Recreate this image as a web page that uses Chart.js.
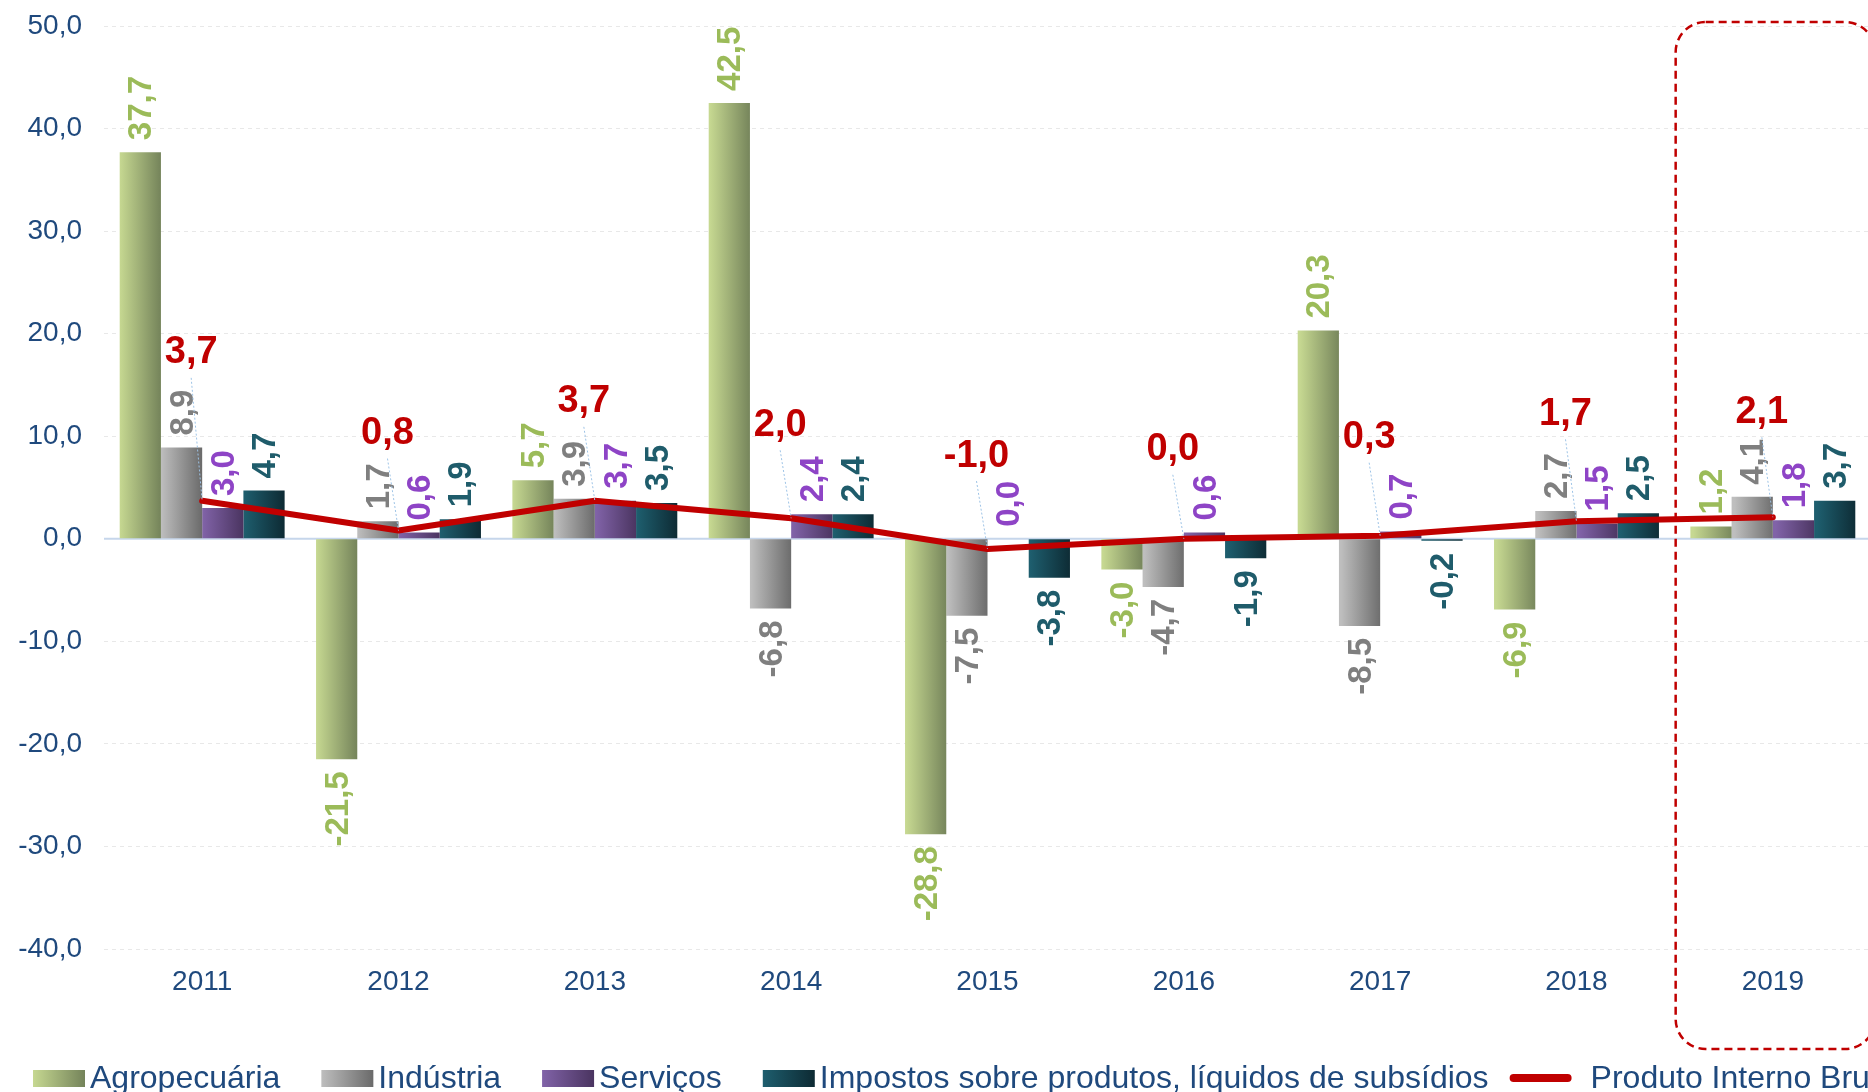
<!DOCTYPE html>
<html>
<head>
<meta charset="utf-8">
<script src="https://cdn.jsdelivr.net/npm/chart.js@4.4.0/dist/chart.umd.min.js"></script>
<style>
  html, body { margin: 0; padding: 0; background: #fff; overflow: hidden; }
  #wrap { position: relative; width: 1874px; height: 1092px; }
</style>
</head>
<body>
<div id="wrap"><canvas id="pibChart"></canvas></div>
<script>
// dados (taxa de variação em volume, %)
const anos = ["2011", "2012", "2013", "2014", "2015", "2016", "2017", "2018", "2019"];
const agropecuaria = [37.7, -21.5, 5.7, 42.5, -28.8, -3.0, 20.3, -6.9, 1.2];
const industria = [8.9, 1.7, 3.9, -6.8, -7.5, -4.7, -8.5, 2.7, 4.1];
const servicos = [3.0, 0.6, 3.7, 2.4, 0.0, 0.6, 0.7, 1.5, 1.8];
const impostos = [4.7, 1.9, 3.5, 2.4, -3.8, -1.9, -0.2, 2.5, 3.7];
const pib = [3.7, 0.8, 3.7, 2.0, -1.0, 0.0, 0.3, 1.7, 2.1];

// quanto o rótulo do PIB sobe acima do ponto (px)
const pibRotuloDesloc = [-148, -97, -99, -93, -93, -89, -98, -107, -105];

const corTexto = "#1F497D";
const fonte = '"Liberation Sans", Arial, sans-serif';
const fmt = (v) => v.toFixed(1).replace(".", ",");

// gradiente horizontal em cada barra
function gradBarra(stops) {
  return (c) => {
    const el = c.element;
    if (!el || el.x == null || isNaN(el.x) || !el.width) return stops[0];
    const g = c.chart.ctx.createLinearGradient(el.x - el.width / 2, 0, el.x + el.width / 2, 0);
    g.addColorStop(0, stops[0]);
    g.addColorStop(1, stops[1]);
    return g;
  };
}

const barraBase = { type: "bar", categoryPercentage: 0.84, barPercentage: 1.0, order: 1 };

const rotulosPlugin = {
  id: "rotulos",
  beforeDatasetsDraw(chart) {
    const { ctx, chartArea, scales } = chart;
    const y0 = scales.y.getPixelForValue(0);
    ctx.save();
    ctx.strokeStyle = "#C6D6EB";
    ctx.lineWidth = 2;
    ctx.beginPath();
    ctx.moveTo(chartArea.left, y0);
    ctx.lineTo(chartArea.right, y0);
    ctx.stroke();
    ctx.restore();
  },
  afterDatasetsDraw(chart) {
    const { ctx } = chart;
    chart.data.datasets.forEach((ds, i) => {
      const meta = chart.getDatasetMeta(i);
      if (ds.type === "line") {
        meta.data.forEach((el, j) => {
          const cx = el.x - 11;
          const cy = el.y + pibRotuloDesloc[j];
          ctx.save();
          ctx.strokeStyle = "#9DC3E6";
          ctx.lineWidth = 1;
          ctx.setLineDash([2, 2]);
          ctx.beginPath();
          ctx.moveTo(cx, cy + 25);
          ctx.lineTo(el.x, el.y);
          ctx.stroke();
          ctx.restore();
          ctx.save();
          ctx.font = "bold 38px " + fonte;
          ctx.fillStyle = ds.rotuloCor;
          ctx.textAlign = "center";
          ctx.textBaseline = "middle";
          ctx.fillText(fmt(ds.data[j]), cx, cy);
          ctx.restore();
        });
        return;
      }
      meta.data.forEach((el, j) => {
        const v = ds.data[j];
        ctx.save();
        ctx.translate(el.x + 2, v >= 0 ? el.y - 12 : el.y + 12);
        ctx.rotate(-Math.PI / 2);
        ctx.textAlign = v >= 0 ? "left" : "right";
        ctx.textBaseline = "middle";
        ctx.font = "bold 33px " + fonte;
        ctx.fillStyle = ds.rotuloCor;
        ctx.fillText(fmt(v), 0, 0);
        ctx.restore();
      });
    });
  },
  afterDraw(chart) {
    const { ctx, chartArea, scales } = chart;
    // destaque 2019
    const x = scales.x;
    const meia = (x.getPixelForValue(1) - x.getPixelForValue(0)) / 2;
    const cx = x.getPixelForValue(anos.length - 1);
    const l = cx - meia + 1, r = cx + meia + 4;
    const t = chartArea.top - 4, b = chartArea.bottom + 100;
    ctx.save();
    ctx.strokeStyle = "#C00000";
    ctx.lineWidth = 2.5;
    ctx.setLineDash([8, 5]);
    ctx.beginPath();
    ctx.roundRect(l, t, r - l, b - t, 30);
    ctx.stroke();
    ctx.restore();

    // legenda
    ctx.save();
    ctx.font = "32px " + fonte;
    ctx.textBaseline = "alphabetic";
    let px = 33;
    const base = 1088;
    chart.data.datasets.forEach((ds) => {
      if (ds.type === "line") {
        ctx.strokeStyle = ds.borderColor;
        ctx.lineWidth = 8;
        ctx.lineCap = "round";
        ctx.beginPath();
        ctx.moveTo(px - 16, base - 10);
        ctx.lineTo(px + 38, base - 10);
        ctx.stroke();
        px += 61;
      } else {
        const g = ctx.createLinearGradient(px, 0, px + 52, 0);
        g.addColorStop(0, ds.gradStops[0]);
        g.addColorStop(1, ds.gradStops[1]);
        ctx.fillStyle = g;
        ctx.fillRect(px, base - 18, 52, 17);
        px += 57;
      }
      ctx.fillStyle = corTexto;
      ctx.fillText(ds.label, px, base);
      px += ctx.measureText(ds.label).width + 41;
    });
    ctx.restore();
  },
};

const ctxPib = document.getElementById("pibChart").getContext("2d");
const grafico = new Chart(ctxPib, {
  data: {
    labels: anos,
    datasets: [
      { ...barraBase, label: "Agropecuária", data: agropecuaria,
        gradStops: ["#C6D891", "#74835A"], backgroundColor: gradBarra(["#C6D891", "#74835A"]), rotuloCor: "#9BBB59" },
      { ...barraBase, label: "Indústria", data: industria,
        gradStops: ["#BEBEBE", "#6A6A6A"], backgroundColor: gradBarra(["#BEBEBE", "#6A6A6A"]), rotuloCor: "#7F7F7F" },
      { ...barraBase, label: "Serviços", data: servicos,
        gradStops: ["#8163A8", "#4A3460"], backgroundColor: gradBarra(["#8163A8", "#4A3460"]), rotuloCor: "#8E44C6" },
      { ...barraBase, label: "Impostos sobre produtos, líquidos de subsídios", data: impostos,
        gradStops: ["#1E5E6E", "#0D2A33"], backgroundColor: gradBarra(["#1E5E6E", "#0D2A33"]), rotuloCor: "#1F5C6B" },
      {
        type: "line",
        label: "Produto Interno Bruto",
        data: pib,
        borderColor: "#C00000",
        backgroundColor: "#C00000",
        borderWidth: 6,
        borderCapStyle: "round",
        borderJoinStyle: "round",
        pointRadius: 0,
        tension: 0,
        order: 0,
        rotuloCor: "#C00000",
      },
    ],
  },
  options: {
    responsive: true,
    maintainAspectRatio: false,
    animation: false,
    layout: { padding: { top: 26, left: 0, right: 0, bottom: 0 } },
    plugins: {
      legend: { display: false },
      tooltip: { enabled: false },
    },
    scales: {
      x: {
        offset: true,
        grid: { display: false },
        border: { display: false },
        ticks: { color: corTexto, font: { family: fonte, size: 28 }, padding: 8 },
        afterFit: (s) => { s.height = 143; },
      },
      y: {
        min: -40,
        max: 50,
        ticks: {
          stepSize: 10,
          color: corTexto,
          font: { family: fonte, size: 28 },
          padding: 22,
          callback: (v) => fmt(v),
        },
        grid: {
          drawTicks: false,
          color: (c) => (c.tick && c.tick.value === 0 ? "rgba(0,0,0,0)" : "#E8E8E8"),
        },
        border: { display: false, dash: [4, 4] },
        afterFit: (s) => {
          s.width = 104;
          s.paddingTop = 0;
          s.paddingBottom = 0;
        },
      },
    },
  },
  plugins: [rotulosPlugin],
});
// segunda passada para os gradientes usarem a posição das barras
grafico.update("none");
</script>
</body>
</html>
